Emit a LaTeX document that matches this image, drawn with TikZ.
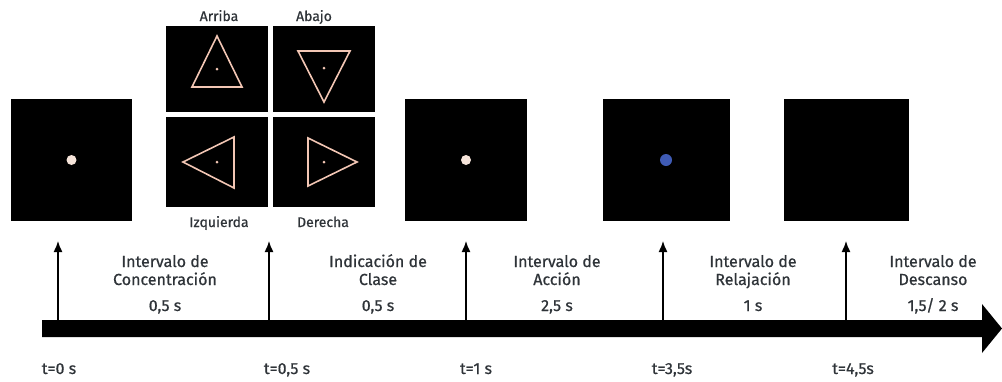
\documentclass[tikz,border=0pt]{standalone}
\usepackage{fontspec}
\setmainfont{Fira Sans}[FakeBold=0.7]
\usetikzlibrary{arrows.meta}
\definecolor{txt}{HTML}{2E3338}
\definecolor{peach}{HTML}{F2C6B4}
\definecolor{dotw}{HTML}{F6E4DA}
\definecolor{dotb}{HTML}{3F5BB5}
\tikzset{
  screen/.style={fill=black, draw=none, inner sep=0pt, outer sep=0pt, minimum height=122pt},
  quad/.style={fill=black, draw=none, inner sep=0pt, outer sep=0pt, minimum width=102pt},
  tri/.style={draw=peach, line width=1.6pt, line join=miter},
  lbl/.style={text=txt, font=\fontsize{16}{19}\selectfont, inner sep=0pt, anchor=base},
  small/.style={font=\fontsize{14}{17}\selectfont},
  tick/.style={line width=1.4pt, -{Latex[length=11pt,width=9pt]}},
}
\begin{document}
\begin{tikzpicture}[x=1pt,y=-1pt]
\useasboundingbox (0,0) rectangle (1002,381);
% screens
\node[screen, minimum width=121pt] (s1) at (71.5,160) {};
\node[screen, minimum width=122pt] (s3) at (466,160) {};
\node[screen, minimum width=127pt] (s4) at (666,160) {};
\node[screen, minimum width=125pt] (s5) at (846.5,160) {};
\fill[dotw] (s1.center) circle (5pt);
\fill[dotw] (s3.center) circle (5pt);
\fill[dotb] (s4.center) circle (6pt);
% cue quad
\node[quad, minimum height=86pt] (qtl) at (217,69) {};
\node[quad, minimum height=86pt] (qtr) at (323.5,69) {};
\node[quad, minimum height=90pt] (qbl) at (217,162) {};
\node[quad, minimum height=90pt] (qbr) at (323.5,162) {};
\draw[tri] (217,36) -- (242,87) -- (192,87) -- cycle;
\draw[tri] (298,51) -- (350,51) -- (324,102) -- cycle;
\draw[tri] (183,162) -- (234,137) -- (234,188) -- cycle;
\draw[tri] (308,138) -- (357,162) -- (308,186) -- cycle;
\fill[peach] (217,69) circle (1.5pt);
\fill[peach] (324,68) circle (1.5pt);
\fill[peach] (217,162) circle (1.5pt);
\fill[peach] (324,162) circle (1.5pt);
\node[lbl, small] (larr) at (219,21) {Arriba};
\node[lbl, small] (laba) at (314,21) {Abajo};
\node[lbl, small] (lizq) at (219,227) {Izquierda};
\node[lbl, small] (lder) at (323,227) {Derecha};
% timeline
\fill[black] (42,320) -- (982,320) -- (982,304) -- (1002,328.5) -- (982,353) -- (982,337) -- (42,337) -- cycle;
% ticks
\foreach \n/\x in {a/58, b/269, c/466, d/663, e/846}{
  \coordinate (\n bot) at (\x,320);
  \coordinate (\n top) at (\x,241);
  \draw[tick] (\n bot) -- (\n top);
}
% time labels
\node[lbl] (t0) at (59,374) {t=0 s};
\node[lbl] (t1) at (287,374) {t=0,5 s};
\node[lbl] (t2) at (476,374) {t=1 s};
\node[lbl] (t3) at (672,374) {t=3,5s};
\node[lbl] (t4) at (853,374) {t=4,5s};
% interval labels
\node[lbl] (i1a) at (165,267) {Intervalo de};
\node[lbl] (i1b) at (165,285) {Concentración};
\node[lbl] (i1c) at (165,311) {0,5 s};
\node[lbl] (i2a) at (378,267) {Indicación de};
\node[lbl] (i2b) at (378,285) {Clase};
\node[lbl] (i2c) at (378,311) {0,5 s};
\node[lbl] (i3a) at (557,267) {Intervalo de};
\node[lbl] (i3b) at (557,285) {Acción};
\node[lbl] (i3c) at (557,311) {2,5 s};
\node[lbl] (i4a) at (753,267) {Intervalo de};
\node[lbl] (i4b) at (753,285) {Relajación};
\node[lbl] (i4c) at (753,311) {1 s};
\node[lbl] (i5a) at (933,267) {Intervalo de};
\node[lbl] (i5b) at (933,285) {Descanso};
\node[lbl] (i5c) at (933,311) {1,5/ 2 s};
\end{tikzpicture}
\end{document}
